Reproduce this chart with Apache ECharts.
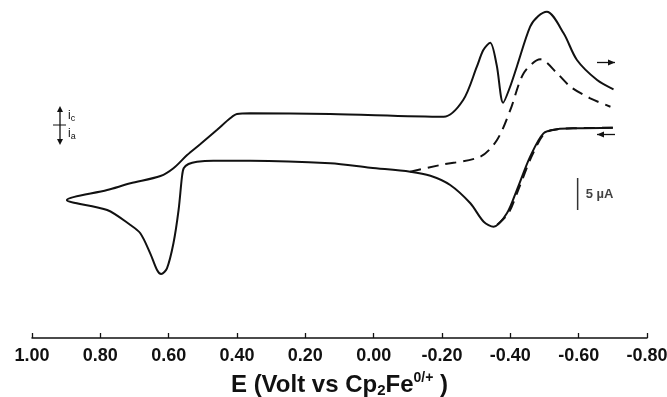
<!DOCTYPE html>
<html>
<head>
<meta charset="utf-8">
<script src="https://cdn.jsdelivr.net/npm/echarts@6/dist/echarts.min.js"></script>
<style>
html,body{margin:0;padding:0;background:#fff;}
#chart{width:667px;height:397px;}
</style>
</head>
<body>
<div id="chart"></div>
<script>
// Potential (V vs Cp2Fe0/+) and current (µA, cathodic positive)
// Solid CV: reverse (anodic) branch from -0.70 V to +0.90 V, then forward (cathodic) branch back to -0.70 V
const solidE = [-0.700, -0.595, -0.537, -0.497, -0.458, -0.419, -0.390, -0.351, -0.322, -0.283, -0.224, -0.166, -0.107, 0.010, 0.127, 0.361, 0.469, 0.517, 0.542, 0.556, 0.561, 0.571, 0.586, 0.605, 0.622, 0.634, 0.654, 0.683, 0.712, 0.780, 0.898,
                0.780, 0.712, 0.624, 0.586, 0.546, 0.507, 0.459, 0.420, 0.400, 0.361, 0.127, -0.205, -0.262, -0.302, -0.321, -0.341, -0.360, -0.379, -0.398, -0.419, -0.458, -0.482, -0.507, -0.556, -0.595, -0.654, -0.702];
const solidI = [2.86, 2.77, 2.61, 1.98, -1.67, -6.88, -10.52, -12.61, -11.83, -8.95, -6.09, -4.64, -4.02, -3.39, -2.70, -2.30, -2.30, -2.45, -2.81, -3.48, -4.80, -10.00, -15.20, -19.11, -20.00, -19.38, -16.77, -13.64, -12.34, -10.00, -8.44,
                -6.88, -5.83, -4.69, -3.48, -1.41, 0.31, 2.50, 4.33, 5.00, 5.11, 5.00, 4.58, 7.19, 12.39, 15.00, 16.14, 12.66, 6.77, 9.06, 12.39, 18.64, 20.30, 20.98, 17.61, 13.44, 10.31, 8.86];
// Dashed CV: scan from -0.10 V to -0.70 V ...
const dashedFwdE = [-0.107, -0.195, -0.312, -0.361, -0.400, -0.439, -0.488, -0.537, -0.576, -0.634, -0.693];
const dashedFwdI = [-4.02, -2.97, -1.67, 0.94, 5.63, 11.36, 13.55, 11.36, 9.27, 7.45, 6.14];
// ... and back (overlapping the solid anodic wave)
const dashedRevE = [-0.700, -0.595, -0.537, -0.500, -0.462, -0.423, -0.394, -0.355];
const dashedRevI = [2.86, 2.77, 2.61, 1.98, -1.67, -6.88, -10.52, -12.61];
// Scale bar: 5 µA
const scaleBarE = [-0.597, -0.597];
const scaleBarI = [-5, -10];
const scaleBarLabel = '5 µA';
// Axis
const xMin = -0.8, xMax = 1.0, xStep = 0.2;

const zip = (a, b) => a.map((v, k) => [v, b[k]]);

const chart = echarts.init(document.getElementById('chart'), null, {renderer: 'canvas'});
const ink = '#111';
const font = 'Liberation Sans, Arial, sans-serif';

function arrowGroup(x1, x2, y, dir) {
  const tip = dir > 0 ? x2 : x1;
  const back = tip - dir * 7;
  return {
    type: 'group',
    children: [
      {type: 'line', shape: {x1: x1, y1: y, x2: x2, y2: y}, style: {stroke: ink, lineWidth: 1.3}},
      {type: 'polygon', shape: {points: [[tip, y], [back, y - 3], [back, y + 3]]}, style: {fill: ink}}
    ]
  };
}

chart.setOption({
  animation: false,
  grid: {left: 32, right: 20, top: 8, bottom: 59, outerBoundsMode: 'none', containLabel: false},
  xAxis: {
    type: 'value', inverse: true, min: xMin, max: xMax, interval: xStep,
    axisLine: {show: true, onZero: false, lineStyle: {color: ink, width: 1.5}},
    axisTick: {show: true, inside: true, length: 5, lineStyle: {color: ink, width: 1.3}},
    splitLine: {show: false},
    axisLabel: {
      color: ink, fontSize: 18, fontWeight: 'bold', fontFamily: font, margin: 9,
      formatter: v => (Math.abs(v) < 1e-9 ? 0 : v).toFixed(2)
    },
    name: '{b|E (Volt vs Cp}{sub|2}{b|Fe}{sup|0/+}{b| )}',
    nameLocation: 'middle', nameGap: 20,
    nameTextStyle: {
      rich: {
        b: {fontSize: 24, fontWeight: 'bold', color: ink, fontFamily: font, lineHeight: 30, verticalAlign: 'middle'},
        sub: {fontSize: 15, fontWeight: 'bold', color: ink, fontFamily: font, lineHeight: 30, verticalAlign: 'bottom', padding: [0, 0, 2, 0]},
        sup: {fontSize: 14, fontWeight: 'bold', color: ink, fontFamily: font, lineHeight: 30, verticalAlign: 'top', padding: [1, 0, 0, 0]}
      }
    }
  },
  yAxis: {type: 'value', min: -30, max: 21.5625, show: false},
  series: [
    {
      type: 'line', name: 'solid', data: zip(solidE, solidI), showSymbol: false, smooth: 0.3, clip: false,
      lineStyle: {color: ink, width: 2}, z: 3
    },
    {
      type: 'line', name: 'dashed', data: zip(dashedFwdE, dashedFwdI), showSymbol: false, smooth: 0.3, clip: false,
      lineStyle: {color: ink, width: 2, type: [11, 7]}, z: 2
    },
    {
      type: 'line', name: 'dashedReturn', data: zip(dashedRevE, dashedRevI), showSymbol: false, smooth: 0.3, clip: false,
      lineStyle: {color: ink, width: 2, type: [11, 7]}, z: 2
    },
    {
      type: 'line', name: 'scale', data: zip(scaleBarE, scaleBarI), showSymbol: false,
      lineStyle: {color: '#333', width: 1.5}
    },
    {
      type: 'scatter', name: 'scaleLabel', symbolSize: 0,
      data: [[scaleBarE[0], (scaleBarI[0] + scaleBarI[1]) / 2]],
      label: {show: true, position: 'right', distance: 8, formatter: scaleBarLabel,
              color: ink, fontSize: 13, fontWeight: 'bold', fontFamily: font}
    }
  ],
  graphic: [
    arrowGroup(597, 615, 62.5, 1),
    arrowGroup(597, 615, 134.5, -1),
    {
      type: 'group',
      children: [
        {type: 'line', shape: {x1: 60, y1: 110, x2: 60, y2: 141}, style: {stroke: ink, lineWidth: 1.3}},
        {type: 'polygon', shape: {points: [[60, 106], [57, 112], [63, 112]]}, style: {fill: ink}},
        {type: 'polygon', shape: {points: [[60, 145], [57, 139], [63, 139]]}, style: {fill: ink}},
        {type: 'line', shape: {x1: 53, y1: 125, x2: 66, y2: 125}, style: {stroke: ink, lineWidth: 1}},
        {type: 'text', x: 68, y: 116, style: {text: '{a|i}{s|c}', verticalAlign: 'middle',
          rich: {a: {fontSize: 12, fill: ink, fontFamily: font},
                 s: {fontSize: 9, fill: ink, fontFamily: font, padding: [5, 0, 0, 0]}}}},
        {type: 'text', x: 68, y: 134, style: {text: '{a|i}{s|a}', verticalAlign: 'middle',
          rich: {a: {fontSize: 12, fill: ink, fontFamily: font},
                 s: {fontSize: 9, fill: ink, fontFamily: font, padding: [5, 0, 0, 0]}}}}
      ]
    }
  ]
});
</script>
</body>
</html>
